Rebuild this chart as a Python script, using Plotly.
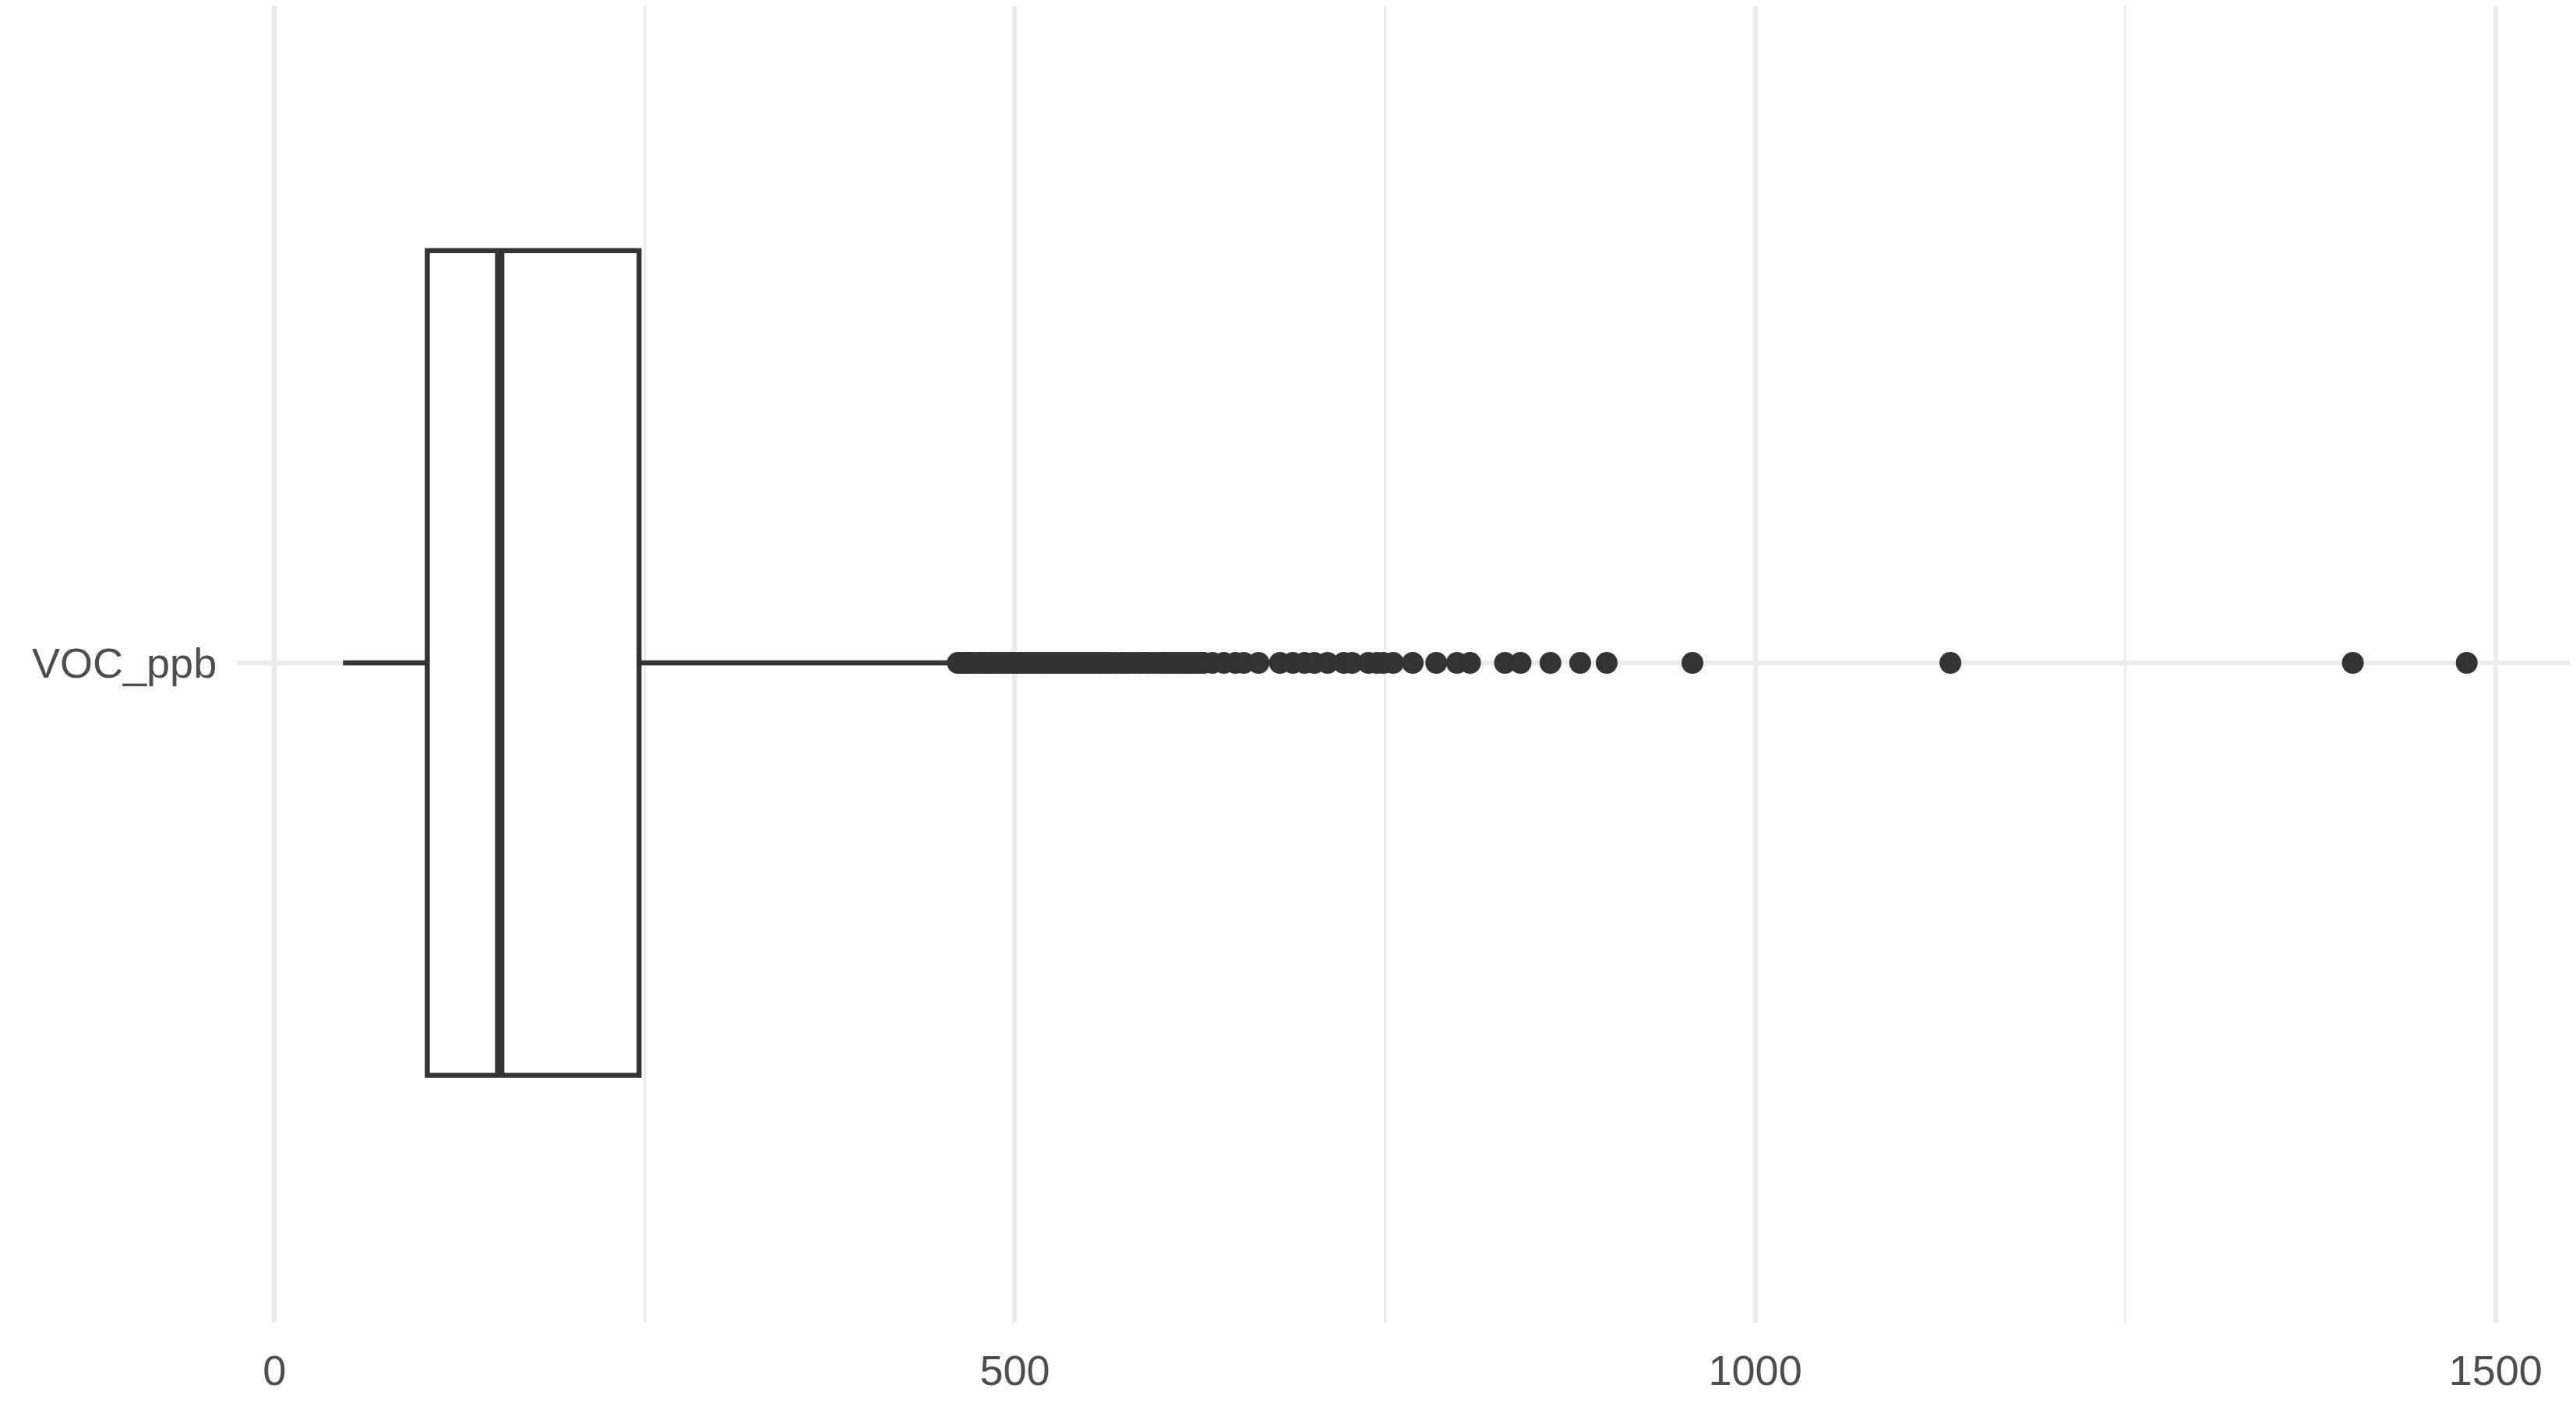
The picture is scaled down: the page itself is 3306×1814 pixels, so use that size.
import plotly.graph_objects as go

category = ["VOC_ppb"]
q1 = [103.2]
median = [152.1]
q3 = [246.2]
lower_whisker = [46.3]
upper_whisker = [455.0]
outliers = [
    461.5, 463, 465, 467.5, 469, 471, 473.5, 476, 478, 480, 482.5, 485, 487, 489.5,
    492, 494, 497, 499.5, 502, 504, 507, 509.5, 512, 515, 518, 520.5, 523, 526,
    529, 532, 535, 538, 541, 544, 547, 550, 553, 556, 559, 562, 565, 568.5, 572,
    575, 578, 581.5, 585, 588, 591, 594.5, 598, 600.5, 602, 605, 608, 610.5, 613,
    615.5, 618, 620, 622, 625,
    627.5, 633.4, 641.2, 649, 654.6, 664.6, 679, 687.8, 695.6, 702.3,
    711.2, 722.2, 727.7, 738.8, 744.5, 748.8, 755.5, 768.7,
    784.6, 798.6, 807.4, 831, 841.5, 861.7, 881.8, 899.7, 957.6, 1131.8, 1403.6, 1480.5,
]
x_ticks = [0, 500, 1000, 1500]
x_tick_labels = ["0", "500", "1000", "1500"]

ink = "#333333"
text_col = "#4D4D4D"
grid_col = "#EBEBEB"
font_family = "Liberation Sans, Arial, Helvetica, sans-serif"

fig = go.Figure()
fig.add_trace(go.Box(
    y=[1], q1=q1, median=median, q3=q3,
    lowerfence=lower_whisker, upperfence=upper_whisker,
    orientation="h", width=0.75,
    fillcolor="white", line=dict(color=ink, width=6.5),
    boxpoints=False, whiskerwidth=0, showlegend=False, hoverinfo="skip",
))
fig.add_trace(go.Scatter(
    x=[median[0], median[0]], y=[1 - 0.375, 1 + 0.375],
    mode="lines", line=dict(color=ink, width=12), showlegend=False, hoverinfo="skip",
))
fig.add_trace(go.Scatter(
    x=outliers, y=[1] * len(outliers), mode="markers",
    marker=dict(color=ink, size=28, line=dict(width=0)),
    showlegend=False,
))

fig.update_layout(
    width=3298, height=1806,
    margin=dict(l=296, r=4, t=0, b=116),
    paper_bgcolor="white", plot_bgcolor="white",
    font=dict(family=font_family, size=54, color=text_col),
)
fig.update_xaxes(
    range=[-25.4, 1552.2],
    tickvals=x_ticks, ticktext=x_tick_labels,
    showgrid=True, gridcolor=grid_col, gridwidth=6,
    minor=dict(dtick=250, tick0=0, showgrid=True, gridcolor=grid_col, gridwidth=3),
    zeroline=False, showline=False,
    ticks="outside", ticklen=14, tickcolor="rgba(0,0,0,0)",
    tickfont=dict(size=54, color=text_col, family=font_family),
)
fig.update_yaxes(
    range=[0.4, 1.5972],
    tickvals=[1], ticktext=category,
    showgrid=True, gridcolor=grid_col, gridwidth=6,
    zeroline=False, showline=False,
    ticks="outside", ticklen=14, tickcolor="rgba(0,0,0,0)",
    tickfont=dict(size=54, color=text_col, family=font_family),
)

fig.write_html("out.html")
